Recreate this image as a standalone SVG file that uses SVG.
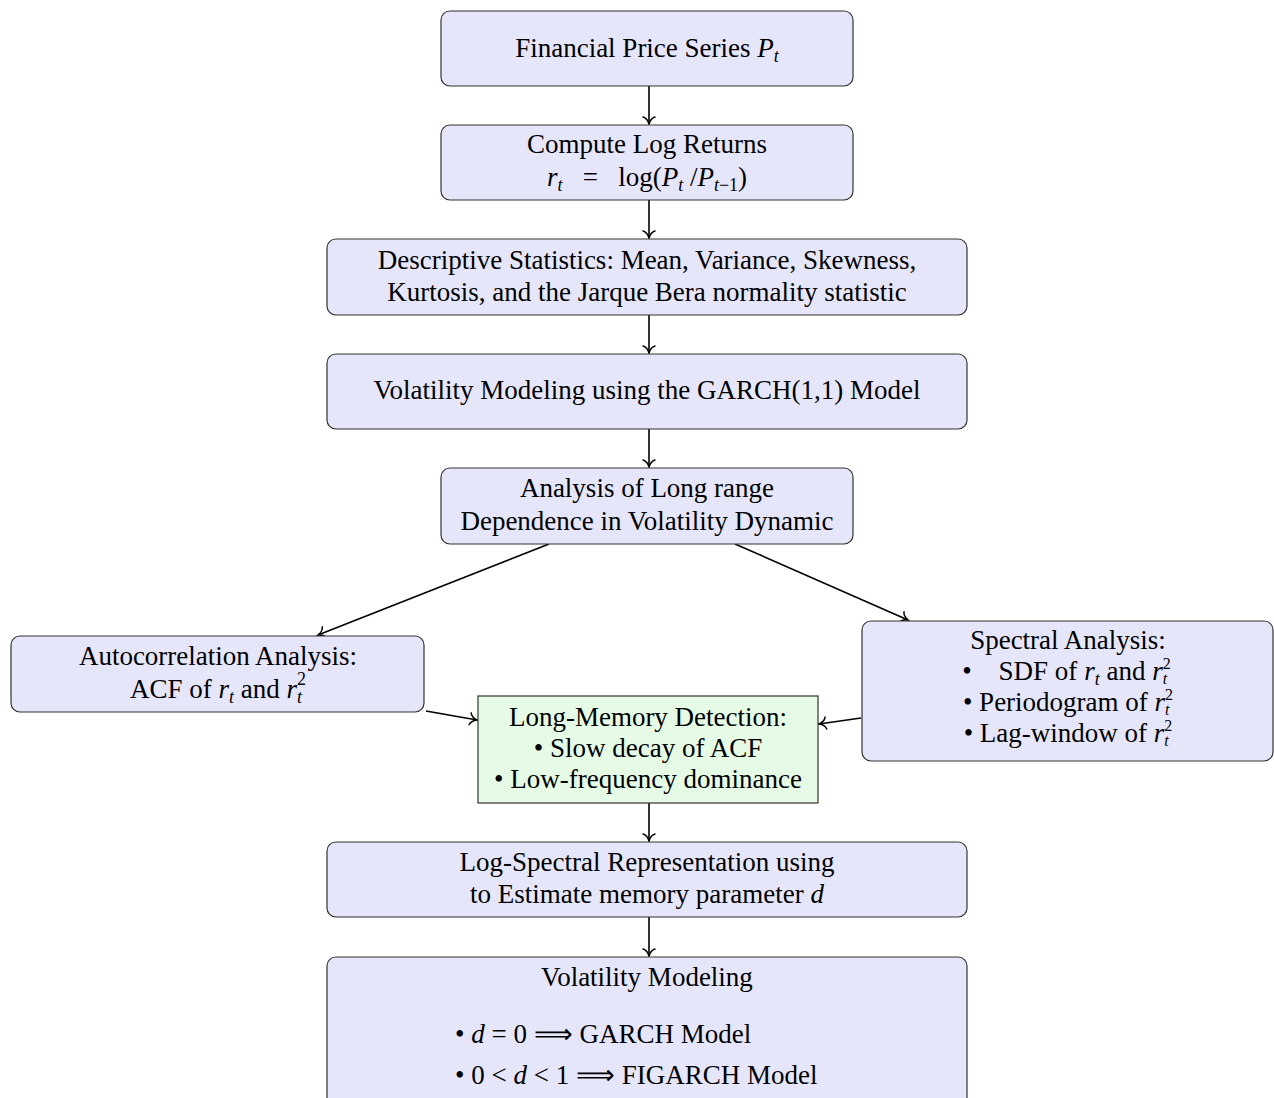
<svg xmlns="http://www.w3.org/2000/svg" width="1274" height="1098" viewBox="0 0 1274 1098">
<style>
.b{fill:#e6e6fb;stroke:#333;stroke-width:1.2}
.g{fill:#e6fbe6;stroke:#333;stroke-width:1.2}
text{font-family:"Liberation Serif","Times New Roman",serif;font-size:27px;fill:#000;text-anchor:middle}
.l{text-anchor:start}
.i{font-style:italic}
.s{font-size:18px}
.t{font-size:16px}
.c{fill:none;stroke:#000;stroke-width:1.6}
</style>
<defs>
<marker id="to" markerUnits="userSpaceOnUse" markerWidth="20" markerHeight="20" refX="0" refY="0" viewBox="-10 -10 20 20" orient="auto" overflow="visible">
<path d="M-7,-6 C-6,-2.5 -2,-0.6 0,0 C-2,0.6 -6,2.5 -7,6" fill="none" stroke="#000" stroke-width="1.5" stroke-linecap="round"/>
</marker>
</defs>
<g id="connectors">
<line class="c" x1="649" y1="86" x2="649" y2="124" marker-end="url(#to)"/>
<line class="c" x1="649" y1="200" x2="649" y2="238" marker-end="url(#to)"/>
<line class="c" x1="649" y1="315" x2="649" y2="353" marker-end="url(#to)"/>
<line class="c" x1="649" y1="429" x2="649" y2="467" marker-end="url(#to)"/>
<line class="c" x1="549" y1="544" x2="318" y2="635" marker-end="url(#to)"/>
<line class="c" x1="735" y1="544" x2="908" y2="620" marker-end="url(#to)"/>
<line class="c" x1="426" y1="711" x2="477" y2="720" marker-end="url(#to)"/>
<line class="c" x1="861" y1="718" x2="819" y2="724" marker-end="url(#to)"/>
<line class="c" x1="649" y1="803" x2="649" y2="841" marker-end="url(#to)"/>
<line class="c" x1="649" y1="917" x2="649" y2="956" marker-end="url(#to)"/>
</g>
<g id="n1"><rect class="b" x="441" y="11" width="412" height="75" rx="9"/>
<text x="647" y="57">Financial Price Series <tspan class="i">P</tspan><tspan class="i s" dy="5">t</tspan></text></g>
<g id="n2"><rect class="b" x="441" y="125" width="412" height="75" rx="9"/>
<text x="647" y="153">Compute Log Returns</text>
<text x="647" y="186" xml:space="preserve"><tspan class="i">r</tspan><tspan class="i s" dy="5">t</tspan><tspan dy="-5">   =   log(</tspan><tspan class="i">P</tspan><tspan class="i s" dy="5">t</tspan><tspan dy="-5"> /</tspan><tspan class="i">P</tspan><tspan class="s" dy="5"><tspan class="i">t</tspan>−1</tspan><tspan dy="-5">)</tspan></text></g>
<g id="n3"><rect class="b" x="327" y="239" width="640" height="76" rx="9"/>
<text x="647" y="269">Descriptive Statistics: Mean, Variance, Skewness,</text>
<text x="647" y="301">Kurtosis, and the Jarque Bera normality statistic</text></g>
<g id="n4"><rect class="b" x="327" y="354" width="640" height="75" rx="9"/>
<text x="647" y="399">Volatility Modeling using the GARCH(1,1) Model</text></g>
<g id="n5"><rect class="b" x="441" y="468" width="412" height="76" rx="9"/>
<text x="647" y="497">Analysis of Long range</text>
<text x="647" y="530">Dependence in Volatility Dynamic</text></g>
<g id="n6"><rect class="b" x="11" y="636" width="413" height="76" rx="9"/>
<text x="218" y="665">Autocorrelation Analysis:</text>
<text x="218" y="698">ACF of <tspan class="i">r</tspan><tspan class="i s" dy="5">t</tspan><tspan dy="-5"> and </tspan><tspan class="i">r</tspan><tspan class="s" dy="-13">2</tspan><tspan class="i s" dx="-9" dy="18">t</tspan><tspan dy="-5"> </tspan></text></g>
<g id="n7"><rect class="b" x="862" y="621" width="411" height="140" rx="9"/>
<text x="1068" y="649">Spectral Analysis:</text>
<text x="1068" y="680" xml:space="preserve">•    SDF of <tspan class="i">r</tspan><tspan class="i s" dy="5">t</tspan><tspan dy="-5"> and </tspan><tspan class="i">r</tspan><tspan class="t" dy="-11">2</tspan><tspan class="i t" dx="-8" dy="15">t</tspan><tspan dy="-4"> </tspan></text>
<text x="1068" y="711">• Periodogram of <tspan class="i">r</tspan><tspan class="t" dy="-11">2</tspan><tspan class="i t" dx="-8" dy="15">t</tspan><tspan dy="-4"> </tspan></text>
<text x="1068" y="742">• Lag-window of <tspan class="i">r</tspan><tspan class="t" dy="-11">2</tspan><tspan class="i t" dx="-8" dy="15">t</tspan><tspan dy="-4"> </tspan></text></g>
<g id="n8"><rect class="g" x="478" y="696" width="340" height="107"/>
<text x="648" y="726">Long-Memory Detection:</text>
<text x="648" y="757">• Slow decay of ACF</text>
<text x="648" y="788">• Low-frequency dominance</text></g>
<g id="n9"><rect class="b" x="327" y="842" width="640" height="75" rx="9"/>
<text x="647" y="871">Log-Spectral Representation using</text>
<text x="647" y="903">to Estimate memory parameter <tspan class="i">d</tspan></text></g>
<g id="n10"><rect class="b" x="327" y="957" width="640" height="150" rx="9"/>
<text x="647" y="986">Volatility Modeling</text>
<text class="l" x="455" y="1043">• <tspan class="i">d</tspan> = 0 ⟹ GARCH Model</text>
<text class="l" x="455" y="1084">• 0 &lt; <tspan class="i">d</tspan> &lt; 1 ⟹  FIGARCH Model</text></g>
</svg>
